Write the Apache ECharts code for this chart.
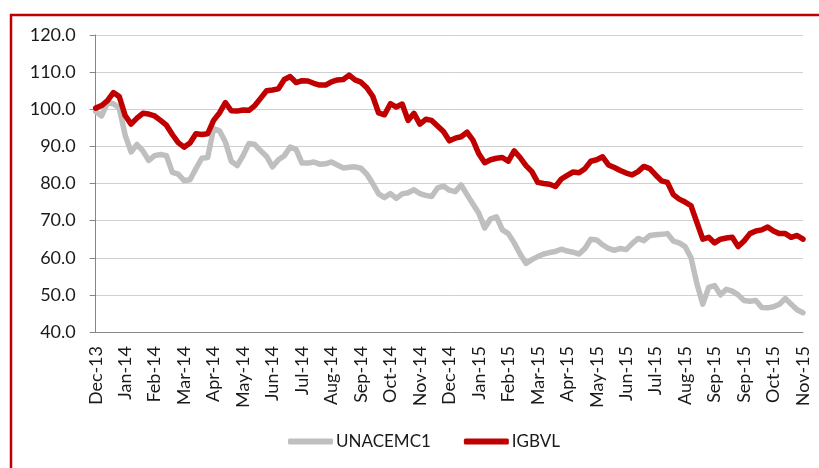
<!DOCTYPE html>
<html>
<head>
<meta charset="utf-8">
<script src="https://cdn.jsdelivr.net/npm/echarts@6/dist/echarts.min.js"></script>
<style>
html,body{margin:0;padding:0;background:#fff;}
#c{width:819px;height:468px;}
</style>
</head>
<body>
<div id="c"></div>
<script>
const tickLabels = ["Dec-13","Jan-14","Feb-14","Mar-14","Apr-14","May-14","Jun-14","Jul-14","Aug-14","Sep-14","Oct-14","Nov-14","Dec-14","Jan-15","Feb-15","Mar-15","Apr-15","May-15","Jun-15","Jul-15","Aug-15","Sep-15","Sep-15","Oct-15","Nov-15"];
const seriesNames = ["UNACEMC1","IGBVL"];
const unacem = [
99.4,98.2,101.8,101.5,100.3,93,88.5,90.5,88.8,86.2,
87.5,87.8,87.5,83,82.5,80.8,81,84,86.8,87,
94.8,94.2,91.2,86,84.8,87.5,90.8,90.5,88.8,87.3,
84.5,86.4,87.5,89.8,89.2,85.5,85.5,85.8,85.2,85.3,
85.8,85,84.2,84.4,84.5,84.1,82.5,80,77.2,76.2,
77.3,76,77.2,77.5,78.3,77.3,76.8,76.5,78.8,79.3,
78.2,77.8,79.6,77,74.5,72,68,70.5,71,67.5,
66.5,64,61,58.5,59.5,60.3,61,61.4,61.7,62.3,
61.8,61.5,61,62.5,65,64.8,63.5,62.5,62,62.5,
62.2,63.8,65.2,64.6,66,66.2,66.3,66.5,64.5,64,
63,60,53,47.5,52,52.5,50,51.5,51,50,
48.5,48.3,48.5,46.6,46.5,46.8,47.5,49,47.5,46,
45.2
];
const igbvl = [
100.3,101,102.3,104.5,103.4,98.3,96,97.6,98.9,98.7,
98.2,97,95.7,93.2,91,89.8,90.9,93.4,93.2,93.4,
97,99,101.8,99.6,99.5,99.8,99.7,101,103,105,
105.2,105.5,108,108.8,107.2,107.7,107.6,107,106.5,106.5,
107.4,107.9,108,109.2,107.9,107.3,105.8,103.5,99,98.5,
101.5,100.6,101.4,97,98.9,96,97.3,97,95.5,94,
91.5,92.2,92.6,93.8,91.7,88,85.6,86.4,86.8,87,
86,88.8,87,84.8,83.2,80.3,80,79.8,79.2,81.2,
82.2,83.1,82.9,84,86,86.4,87.2,85,84.3,83.5,
82.8,82.3,83.2,84.6,84,82.3,80.7,80.3,77,75.8,
75,74,69.5,65,65.5,64,65,65.3,65.5,63,
64.5,66.5,67.2,67.5,68.3,67.2,66.5,66.5,65.5,66,
65
];
const categories = unacem.map((_, i) => i);
const labelStep = 5;

const chart = echarts.init(document.getElementById('c'), null, {renderer: 'canvas'});
const font = 'Lato, "Liberation Sans", sans-serif';
chart.setOption({
  animation: false,
  backgroundColor: '#fff',
  graphic: [{
    type: 'rect', left: 8.5, top: 12.5, silent: true,
    shape: {x: 0, y: 0, width: 1200, height: 1000},
    style: {fill: 'none', stroke: '#C00000', lineWidth: 2.5}
  }],
  grid: {left: 95.7, right: 16, top: 35, bottom: 136, containLabel: false},
  legend: {
    left: 288, top: 433, padding: 0,
    itemWidth: 45, itemHeight: 6, itemGap: 33,
    icon: 'roundRect',
    textStyle: {fontFamily: font, fontSize: 17, color: '#1a1a1a', padding: [0,0,0,-2]},
    data: seriesNames
  },
  xAxis: {
    type: 'category', data: categories, boundaryGap: false,
    axisLine: {lineStyle: {color: '#868686', width: 1}},
    axisTick: {show: false},
    splitLine: {show: false},
    axisLabel: {
      interval: labelStep - 1, rotate: 90, margin: 14,
      fontFamily: font, fontSize: 18, color: '#1a1a1a',
      formatter: (v, i) => (i % labelStep === 0 ? tickLabels[i / labelStep] : '')
    }
  },
  yAxis: {
    type: 'value', min: 40, max: 120, interval: 10,
    axisLine: {show: true, lineStyle: {color: '#868686', width: 1}},
    axisTick: {show: true, length: 6, lineStyle: {color: '#868686'}},
    splitLine: {lineStyle: {color: '#D0D0D0', width: 1}},
    axisLabel: {
      margin: 20, fontFamily: font, fontSize: 18, color: '#1a1a1a',
      formatter: v => v.toFixed(1)
    }
  },
  series: [
    {name: seriesNames[0], type: 'line', data: unacem, showSymbol: false,
     itemStyle: {color: '#BFBFBF'},
     lineStyle: {color: '#BFBFBF', width: 5.5, join: 'round', cap: 'round'}},
    {name: seriesNames[1], type: 'line', data: igbvl, showSymbol: false,
     itemStyle: {color: '#C00000'},
     lineStyle: {color: '#C00000', width: 5.5, join: 'round', cap: 'round'}}
  ]
});
</script>
</body>
</html>
